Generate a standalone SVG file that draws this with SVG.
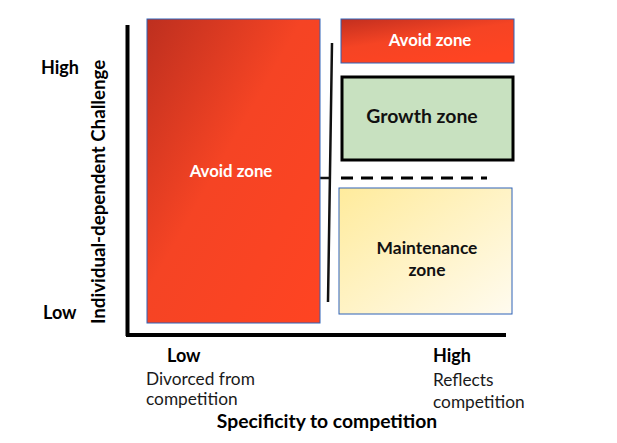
<svg xmlns="http://www.w3.org/2000/svg" width="617" height="443" viewBox="0 0 617 443">
<defs>
<linearGradient id="red" x1="0" y1="0" x2="1" y2="1" gradientUnits="objectBoundingBox">
<stop offset="0" stop-color="#BD2F1F"/>
<stop offset="0.45" stop-color="#F54424"/>
<stop offset="1" stop-color="#FF4422"/>
</linearGradient>
<linearGradient id="red2" x1="0" y1="0" x2="0.6" y2="1">
<stop offset="0" stop-color="#C22F1F"/>
<stop offset="0.5" stop-color="#F54424"/>
<stop offset="1" stop-color="#FF4422"/>
</linearGradient>
<linearGradient id="yel" x1="0" y1="0" x2="1" y2="1">
<stop offset="0" stop-color="#FFEB9C"/>
<stop offset="1" stop-color="#FFFBEF"/>
</linearGradient>
<style>
text{font-family:Lato,"Open Sans","Liberation Sans",sans-serif;}
.b{font-weight:bold;}
.lab{font-size:18px;fill:#000;}
.sub{font-size:17.3px;fill:#1a1a1a;}
.axis{stroke:#000;stroke-width:4;fill:none;}
.thin{stroke:#111;stroke-width:2.5;fill:none;}
.zone{stroke:#2F63B8;stroke-width:1;}
</style>
</defs>
<rect width="617" height="443" fill="#fff"/>
<g id="connectors">
<path class="axis" d="M127.5 25 V336 M126 335 H506"/>
<path class="thin" d="M332 43 L328 302 M320 178 H331"/>
<path d="M341 178 H487" stroke="#000" stroke-width="3" stroke-dasharray="12 8"/>
</g>
<g id="avoid-left">
<rect class="zone" x="147" y="19" width="173" height="304" fill="url(#red)"/>
<text class="b" x="231" y="177" font-size="16.8" fill="#fff" text-anchor="middle">Avoid zone</text>
</g>
<g id="avoid-right">
<rect class="zone" x="341" y="19" width="173" height="44" fill="url(#red2)"/>
<text class="b" x="430" y="46" font-size="16.8" fill="#fff" text-anchor="middle">Avoid zone</text>
</g>
<g id="growth">
<rect x="342" y="77" width="171" height="83" fill="#C8E1C0" stroke="#000" stroke-width="3"/>
<text class="b" x="422" y="123" font-size="19.4" fill="#111" text-anchor="middle">Growth zone</text>
</g>
<g id="maintenance">
<rect class="zone" x="339" y="188" width="173" height="126" fill="url(#yel)"/>
<text class="b" x="427" y="254" font-size="17.4" fill="#111" text-anchor="middle">Maintenance</text>
<text class="b" x="427" y="276" font-size="17.4" fill="#111" text-anchor="middle">zone</text>
</g>
<g id="y-axis-labels">
<text class="b lab" x="41" y="74">High</text>
<text class="b lab" x="43" y="319">Low</text>
<text class="b" font-size="18.7" transform="translate(105 192) rotate(-90)" text-anchor="middle">Individual-dependent Challenge</text>
</g>
<g id="x-axis-labels">
<text class="b lab" x="167" y="362">Low</text>
<text class="sub" x="146" y="385">Divorced from</text>
<text class="sub" x="146" y="405">competition</text>
<text class="b lab" x="433" y="362">High</text>
<text class="sub" x="433" y="386">Reflects</text>
<text class="sub" x="433" y="408">competition</text>
<text class="b" font-size="19.3" x="327" y="428" text-anchor="middle">Specificity to competition</text>
</g>
</svg>
